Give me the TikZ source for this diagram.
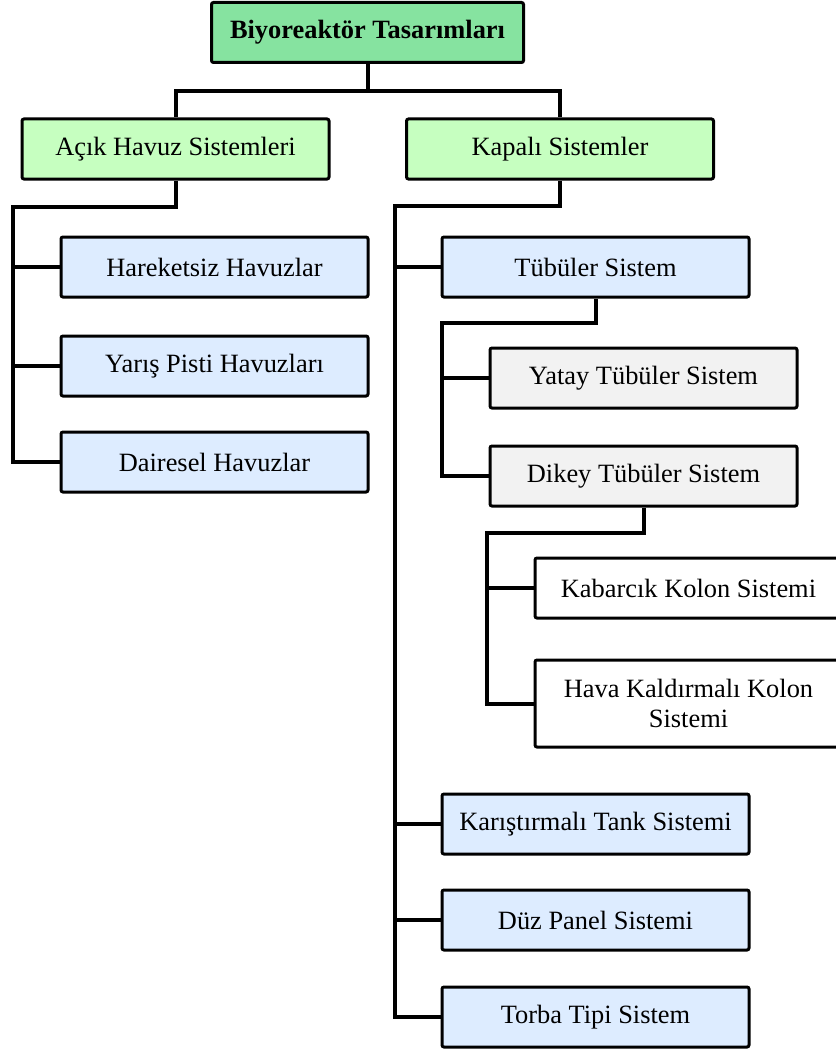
\documentclass[tikz,border=0pt]{standalone}
\usepackage{fontspec}
\setmainfont{Liberation Serif}
\definecolor{topgreen}{RGB}{134,227,160}
\definecolor{lvlgreen}{RGB}{198,255,192}
\definecolor{lvlblue}{RGB}{221,236,255}
\definecolor{lvlgray}{RGB}{242,242,242}
\begin{document}
\begin{tikzpicture}[x=0.75pt,y=-0.75pt,
  box/.style={draw=black, line width=2.25pt, rounded corners=1.5pt, minimum width=230.25pt, minimum height=45pt, inner sep=0pt, align=center, font=\fontsize{19.8}{22.5}\selectfont},
  topbox/.style={box, fill=topgreen, minimum width=234pt, font=\fontsize{19.8}{22.5}\selectfont\bfseries},
  greenbox/.style={box, fill=lvlgreen},
  bluebox/.style={box, fill=lvlblue},
  graybox/.style={box, fill=lvlgray},
  whitebox/.style={box, fill=white},
  conn/.style={draw=black, line width=3pt, line join=miter}]
\useasboundingbox (0,0) rectangle (835,1052);
\node[topbox] (top) at (367.5,32.5) {Biyoreaktör Tasarımları};
\node[greenbox] (acik) at (175.5,149) {Açık Havuz Sistemleri};
\node[greenbox] (kapali) at (560,149) {Kapalı Sistemler};
\node[bluebox] (hareketsiz) at (214.5,267) {Hareketsiz Havuzlar};
\node[bluebox] (yaris) at (214.5,366) {Yarış Pisti Havuzları};
\node[bluebox] (dairesel) at (214.5,462) {Dairesel Havuzlar};
\node[bluebox] (tubuler) at (595.5,267) {Tübüler Sistem};
\node[graybox] (yatay) at (643.5,378) {Yatay Tübüler Sistem};
\node[graybox] (dikey) at (643.5,476) {Dikey Tübüler Sistem};
\node[whitebox] (kabarcik) at (688.5,588) {Kabarcık Kolon Sistemi};
\node[whitebox, minimum height=65.25pt] (hava) at (688.5,703.5) {Hava Kaldırmalı Kolon\\Sistemi};
\node[bluebox] (karistirmali) at (595.5,824) {Karıştırmalı Tank Sistemi};
\node[bluebox] (duz) at (595.5,920) {Düz Panel Sistemi};
\node[bluebox] (torba) at (595.5,1017) {Torba Tipi Sistem};
\coordinate (b0) at (367.5,91);
\coordinate (b1) at (12.5,207);
\coordinate (b2) at (395,206);
\coordinate (b3) at (442,323);
\coordinate (b4) at (487,533);
% root
\draw[conn] (top.south) -- (top.south |- b0);
\draw[conn] (acik.north) -- (acik.north |- b0) -- (kapali.north |- b0) -- (kapali.north);
% open ponds
\draw[conn] (acik.south) -- (acik.south |- b1) -- (b1) -- (b1 |- dairesel.west) -- (dairesel.west);
\draw[conn] (b1 |- hareketsiz.west) -- (hareketsiz.west);
\draw[conn] (b1 |- yaris.west) -- (yaris.west);
% closed systems
\draw[conn] (kapali.south) -- (kapali.south |- b2) -- (b2) -- (b2 |- torba.west) -- (torba.west);
\draw[conn] (b2 |- tubuler.west) -- (tubuler.west);
\draw[conn] (b2 |- karistirmali.west) -- (karistirmali.west);
\draw[conn] (b2 |- duz.west) -- (duz.west);
% tubular
\draw[conn] (tubuler.south) -- (tubuler.south |- b3) -- (b3) -- (b3 |- dikey.west) -- (dikey.west);
\draw[conn] (b3 |- yatay.west) -- (yatay.west);
% vertical tubular
\draw[conn] (dikey.south) -- (dikey.south |- b4) -- (b4) -- (b4 |- hava.west) -- (hava.west);
\draw[conn] (b4 |- kabarcik.west) -- (kabarcik.west);
\end{tikzpicture}
\end{document}
